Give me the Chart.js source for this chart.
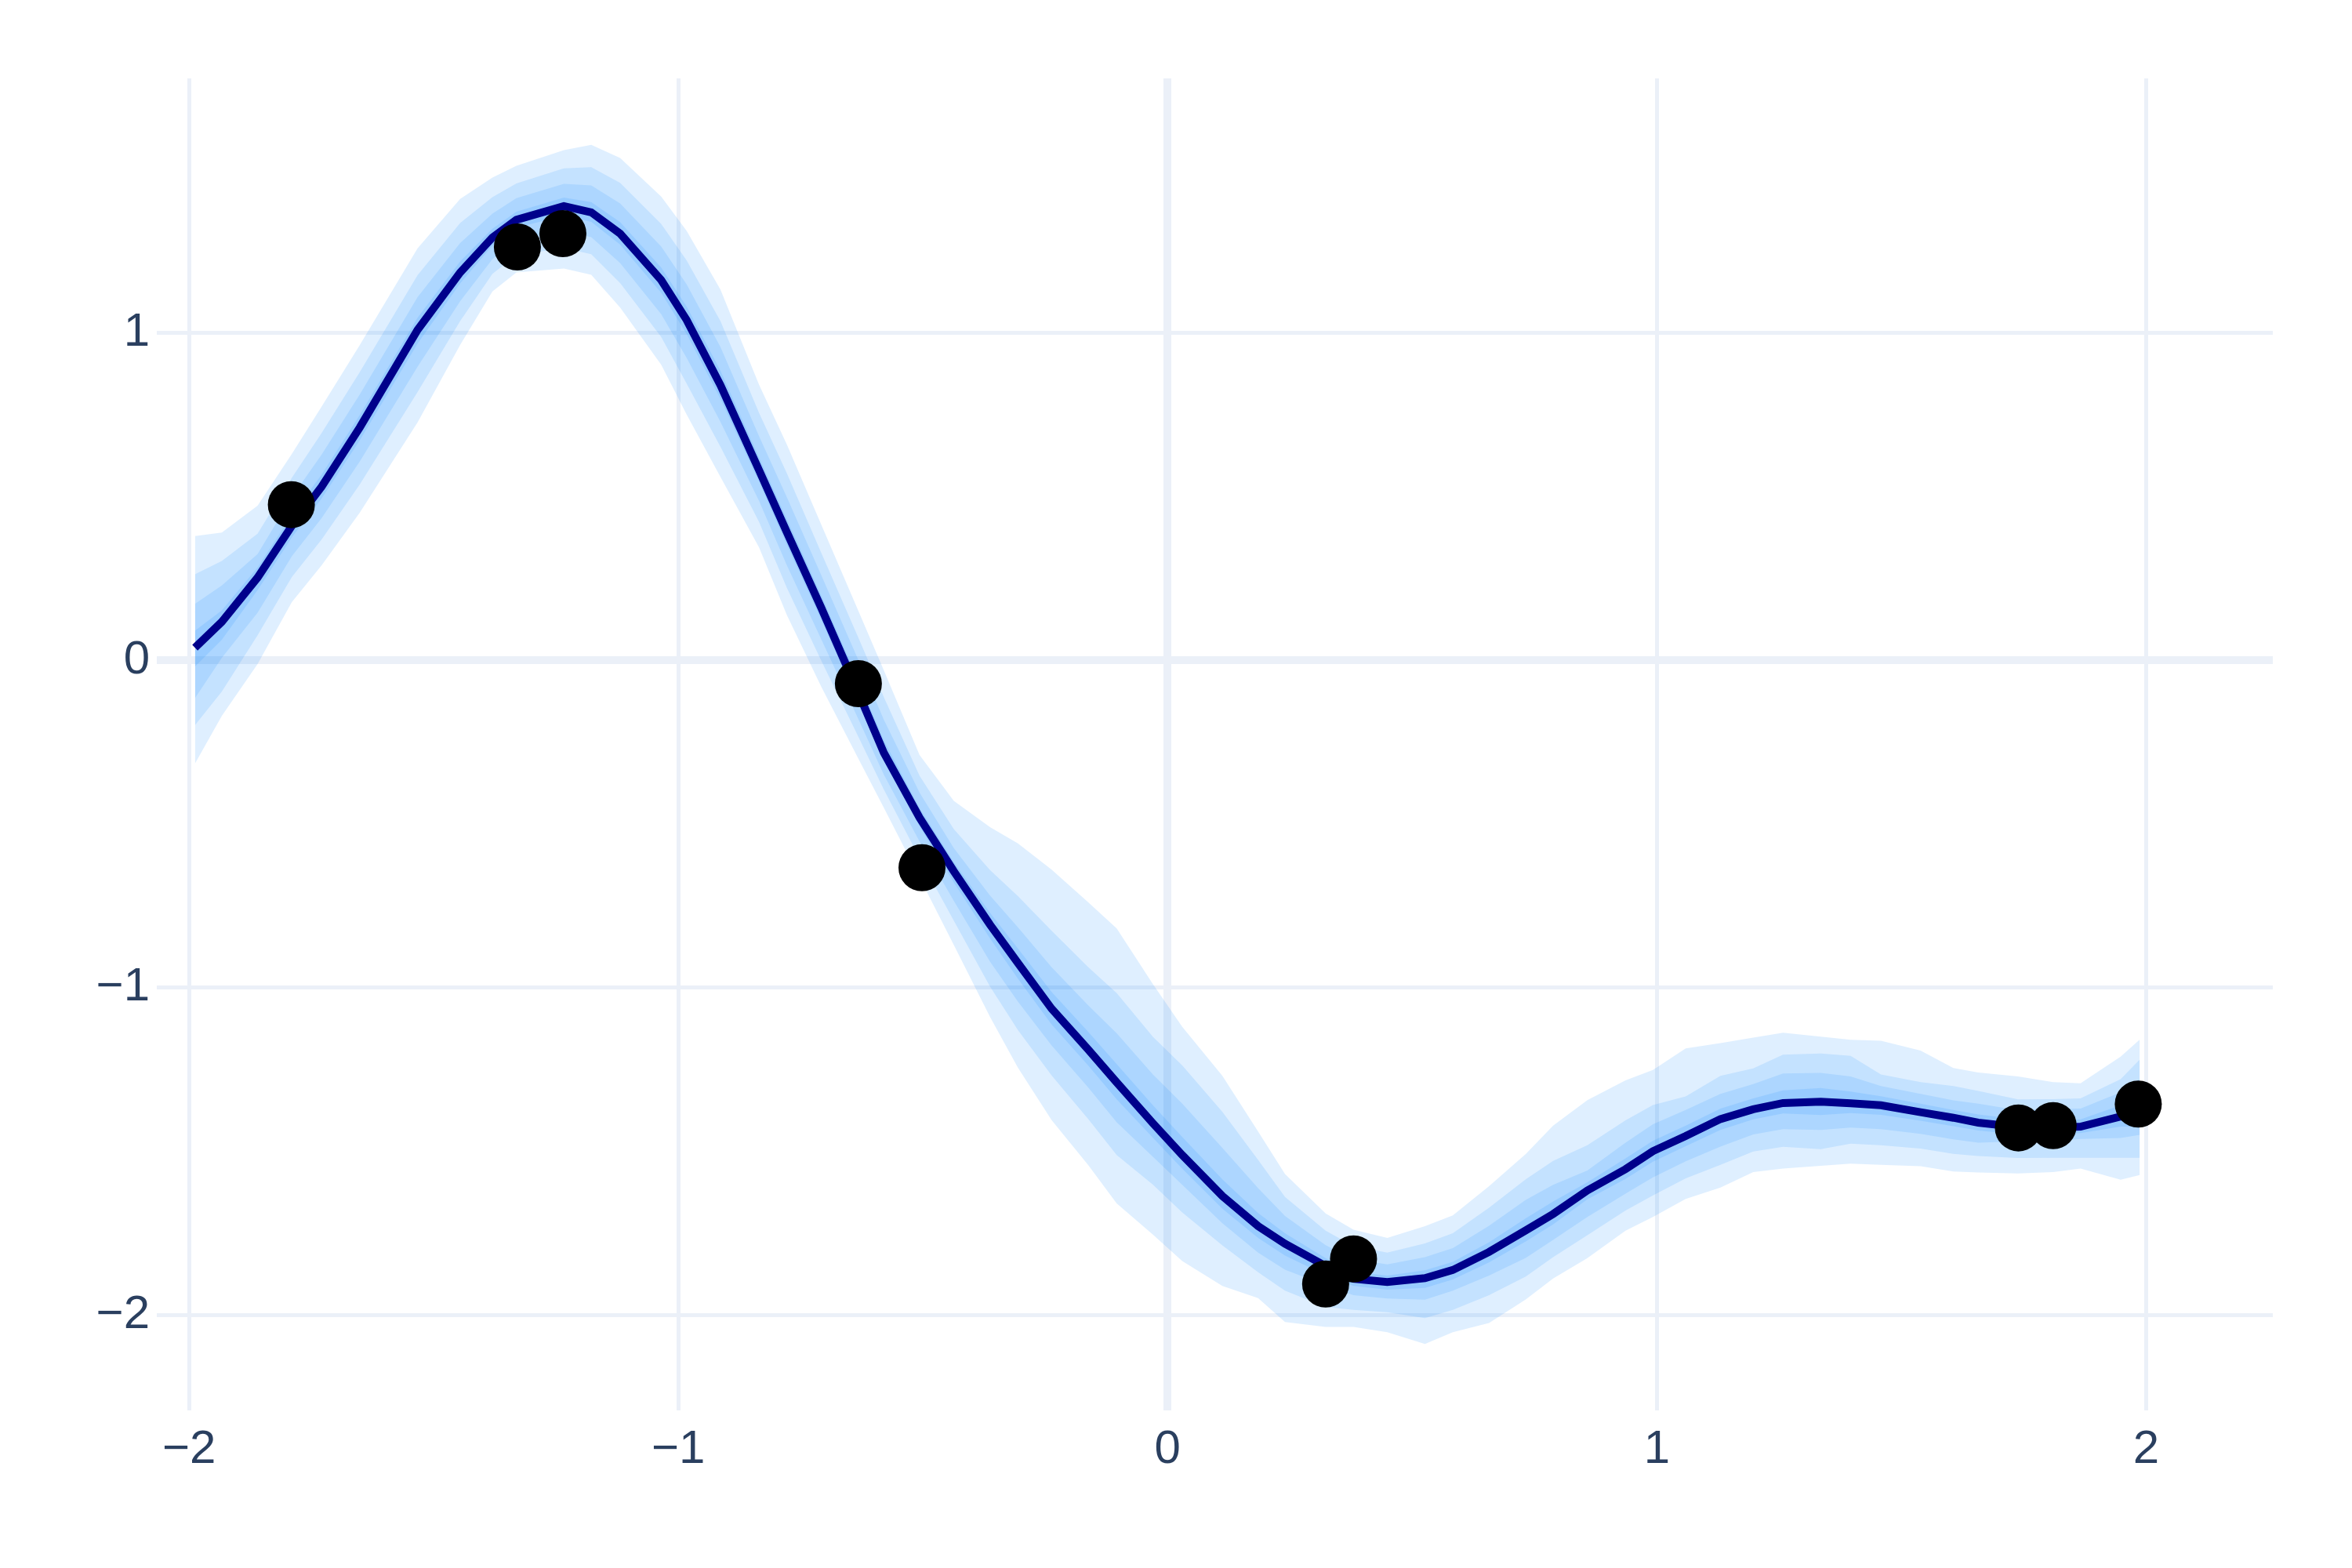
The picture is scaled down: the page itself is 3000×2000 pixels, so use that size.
<!DOCTYPE html>
<html>
<head>
<meta charset="utf-8">
<script src="https://cdn.jsdelivr.net/npm/chart.js"></script>
<style>
  body { margin: 0; background: #fff; }
  #chart { display: block; }
</style>
</head>
<body>
<canvas id="chart" width="3000" height="2000" style="width:3000px;height:2000px"></canvas>
<script>
// --- Date ---
const xGrid = [-1.988, -1.933, -1.860, -1.790, -1.729, -1.651, -1.533, -1.446, -1.380, -1.331,
  -1.234, -1.178, -1.119, -1.035, -0.983, -0.914, -0.835, -0.778, -0.708, -0.632,
  -0.580, -0.507, -0.437, -0.363, -0.306, -0.237, -0.162, -0.104, -0.030, 0.030,
  0.112, 0.185, 0.240, 0.323, 0.380, 0.449, 0.526, 0.583, 0.657, 0.732,
  0.788, 0.858, 0.936, 0.992, 1.059, 1.130, 1.197, 1.258, 1.335, 1.396,
  1.458, 1.539, 1.606, 1.657, 1.738, 1.810, 1.866, 1.948, 1.987];

const meanY = [0.038, 0.117, 0.252, 0.410, 0.530, 0.711, 1.009, 1.184, 1.291, 1.345,
  1.387, 1.368, 1.303, 1.161, 1.039, 0.840, 0.580, 0.390, 0.160, -0.100,
  -0.283, -0.481, -0.645, -0.808, -0.925, -1.065, -1.190, -1.290, -1.415, -1.512,
  -1.637, -1.729, -1.783, -1.851, -1.890, -1.900, -1.888, -1.863, -1.808, -1.742,
  -1.692, -1.620, -1.555, -1.500, -1.454, -1.402, -1.372, -1.353, -1.349, -1.354,
  -1.360, -1.381, -1.398, -1.413, -1.426, -1.428, -1.425, -1.394, -1.381];

// banda exterioara
const outerUpper = [0.379, 0.390, 0.472, 0.630, 0.775, 0.963, 1.258, 1.409, 1.474, 1.510,
  1.558, 1.574, 1.534, 1.416, 1.311, 1.132, 0.841, 0.658, 0.414, 0.150,
  -0.031, -0.290, -0.430, -0.510, -0.560, -0.640, -0.740, -0.820, -0.990, -1.120,
  -1.270, -1.440, -1.570, -1.690, -1.740, -1.765, -1.729, -1.696, -1.607, -1.509,
  -1.422, -1.344, -1.284, -1.252, -1.186, -1.170, -1.153, -1.138, -1.150, -1.160,
  -1.163, -1.193, -1.246, -1.260, -1.272, -1.289, -1.293, -1.211, -1.159];
const outerLower = [-0.316, -0.170, -0.012, 0.177, 0.290, 0.451, 0.726, 0.963, 1.126, 1.184,
  1.196, 1.177, 1.077, 0.902, 0.750, 0.560, 0.344, 0.137, -0.081, -0.301,
  -0.451, -0.664, -0.870, -1.090, -1.245, -1.405, -1.543, -1.660, -1.755, -1.836,
  -1.912, -1.949, -2.022, -2.037, -2.037, -2.053, -2.089, -2.053, -2.025, -1.953,
  -1.889, -1.827, -1.743, -1.701, -1.646, -1.611, -1.564, -1.553, -1.545, -1.538,
  -1.542, -1.546, -1.562, -1.565, -1.568, -1.564, -1.553, -1.587, -1.573];

// a doua banda
const band2Upper = [0.262, 0.303, 0.386, 0.557, 0.694, 0.880, 1.176, 1.335, 1.414, 1.456,
  1.502, 1.506, 1.458, 1.332, 1.221, 1.036, 0.755, 0.570, 0.328, 0.068,
  -0.113, -0.353, -0.516, -0.641, -0.721, -0.827, -0.938, -1.017, -1.151, -1.238,
  -1.380, -1.527, -1.640, -1.743, -1.790, -1.810, -1.782, -1.751, -1.673, -1.586,
  -1.530, -1.482, -1.406, -1.359, -1.333, -1.270, -1.247, -1.205, -1.202, -1.209,
  -1.266, -1.289, -1.301, -1.316, -1.342, -1.341, -1.339, -1.280, -1.220];
const band2Lower = [-0.199, -0.096, 0.076, 0.254, 0.369, 0.537, 0.819, 1.036, 1.180, 1.237,
  1.259, 1.240, 1.152, 0.987, 0.845, 0.652, 0.422, 0.220, -0.001, -0.234,
  -0.395, -0.604, -0.796, -0.997, -1.130, -1.269, -1.402, -1.512, -1.602, -1.687,
  -1.788, -1.870, -1.926, -1.976, -1.985, -1.992, -2.010, -1.985, -1.940, -1.883,
  -1.824, -1.757, -1.681, -1.635, -1.583, -1.542, -1.501, -1.487, -1.494, -1.477,
  -1.482, -1.492, -1.508, -1.515, -1.521, -1.520, -1.520, -1.520, -1.520];

// a treia banda
const band3Upper = [0.172, 0.228, 0.324, 0.498, 0.628, 0.812, 1.109, 1.274, 1.364, 1.411,
  1.455, 1.450, 1.395, 1.263, 1.148, 0.957, 0.684, 0.497, 0.260, 0.000,
  -0.182, -0.405, -0.574, -0.719, -0.816, -0.938, -1.055, -1.140, -1.266, -1.355,
  -1.490, -1.613, -1.698, -1.787, -1.830, -1.846, -1.824, -1.796, -1.728, -1.649,
  -1.603, -1.559, -1.474, -1.418, -1.374, -1.325, -1.295, -1.263, -1.261, -1.272,
  -1.301, -1.325, -1.345, -1.355, -1.375, -1.372, -1.370, -1.320, -1.280];
const band3Lower = [-0.116, 0.007, 0.145, 0.317, 0.434, 0.607, 0.896, 1.096, 1.225, 1.281,
  1.311, 1.292, 1.213, 1.057, 0.923, 0.728, 0.486, 0.289, 0.064, -0.180,
  -0.350, -0.554, -0.735, -0.921, -1.043, -1.177, -1.306, -1.412, -1.517, -1.603,
  -1.720, -1.810, -1.862, -1.910, -1.940, -1.950, -1.954, -1.926, -1.880, -1.826,
  -1.771, -1.701, -1.630, -1.580, -1.531, -1.486, -1.449, -1.433, -1.435, -1.428,
  -1.433, -1.447, -1.464, -1.474, -1.470, -1.470, -1.463, -1.460, -1.450];

// banda interioara
const band4Upper = [0.090, 0.152, 0.283, 0.443, 0.567, 0.749, 1.046, 1.218, 1.318, 1.370,
  1.413, 1.399, 1.338, 1.199, 1.080, 0.884, 0.619, 0.430, 0.198, -0.063,
  -0.245, -0.452, -0.617, -0.772, -0.881, -1.014, -1.136, -1.234, -1.360, -1.457,
  -1.586, -1.689, -1.751, -1.827, -1.868, -1.880, -1.864, -1.838, -1.778, -1.705,
  -1.654, -1.595, -1.522, -1.468, -1.422, -1.370, -1.339, -1.314, -1.307, -1.318,
  -1.332, -1.355, -1.374, -1.388, -1.402, -1.405, -1.403, -1.360, -1.335];
const band4Lower = [-0.020, 0.062, 0.214, 0.375, 0.494, 0.672, 0.967, 1.151, 1.266, 1.321,
  1.358, 1.339, 1.269, 1.122, 0.996, 0.798, 0.545, 0.352, 0.124, -0.130,
  -0.308, -0.508, -0.679, -0.850, -0.973, -1.113, -1.239, -1.342, -1.459, -1.554,
  -1.676, -1.765, -1.819, -1.879, -1.912, -1.923, -1.918, -1.892, -1.840, -1.776,
  -1.724, -1.647, -1.585, -1.532, -1.485, -1.435, -1.403, -1.385, -1.390, -1.384,
  -1.389, -1.407, -1.424, -1.437, -1.449, -1.450, -1.445, -1.425, -1.425];

// observatii (punctele negre)
const obsX = [-1.791, -1.329, -1.236, -0.632, -0.502, 0.323, 0.380, 1.739, 1.810, 1.984];
const obsY = [0.475, 1.262, 1.303, -0.072, -0.634, -1.906, -1.829, -1.429, -1.422, -1.356];

const xTickValues = [-2, -1, 0, 1, 2];
const yTickValues = [-2, -1, 0, 1];

// --- Stiluri ---
const gridColor = '#EBF0F8';
const bandFill = 'rgba(30, 144, 255, 0.14)';
const tickColor = '#2a3f5f';

function toPoints(xs, ys) {
  return xs.map((x, i) => ({ x: x, y: ys[i] }));
}

function bandPair(upper, lower) {
  return [
    { data: toPoints(xGrid, upper), fill: '+1', backgroundColor: bandFill,
      borderWidth: 0, pointRadius: 0, tension: 0 },
    { data: toPoints(xGrid, lower), fill: false, backgroundColor: bandFill,
      borderWidth: 0, pointRadius: 0, tension: 0 }
  ];
}

function formatTick(v) {
  return v < 0 ? '\u2212' + Math.abs(v) : String(v);
}

Chart.defaults.font.family = '"Liberation Sans", Arial, sans-serif';

new Chart(document.getElementById('chart'), {
  type: 'line',
  data: {
    datasets: [
      { type: 'scatter', data: toPoints(obsX, obsY), backgroundColor: '#000', borderWidth: 0,
        pointRadius: 30, pointHoverRadius: 30, showLine: false },
      { data: toPoints(xGrid, meanY), borderColor: '#00008B', borderWidth: 10,
        pointRadius: 0, fill: false, tension: 0 },
      ...bandPair(band4Upper, band4Lower),
      ...bandPair(band3Upper, band3Lower),
      ...bandPair(band2Upper, band2Lower),
      ...bandPair(outerUpper, outerLower)
    ]
  },
  options: {
    responsive: false,
    animation: false,
    devicePixelRatio: 1,
    layout: { padding: { top: 100, right: 101, left: 0, bottom: 0 } },
    plugins: { legend: { display: false }, tooltip: { enabled: false } },
    scales: {
      x: {
        type: 'linear', min: -2.066, max: 2.259,
        afterFit: (s) => { s.height = 201; },
        afterBuildTicks: (s) => { s.ticks = xTickValues.map(v => ({ value: v })); },
        grid: { color: gridColor, lineWidth: (c) => (c.tick && c.tick.value === 0 ? 10 : 5), drawTicks: false },
        border: { display: false },
        ticks: { color: tickColor, font: { size: 60 }, padding: 14, callback: formatTick, maxRotation: 0 }
      },
      y: {
        type: 'linear', min: -2.292, max: 1.777,
        afterFit: (s) => { s.width = 200; },
        afterBuildTicks: (s) => { s.ticks = yTickValues.map(v => ({ value: v })); },
        grid: { color: gridColor, lineWidth: (c) => (c.tick && c.tick.value === 0 ? 10 : 5), drawTicks: false },
        border: { display: false },
        ticks: { color: tickColor, font: { size: 60 }, padding: 9, callback: formatTick }
      }
    }
  }
});
</script>
</body>
</html>
